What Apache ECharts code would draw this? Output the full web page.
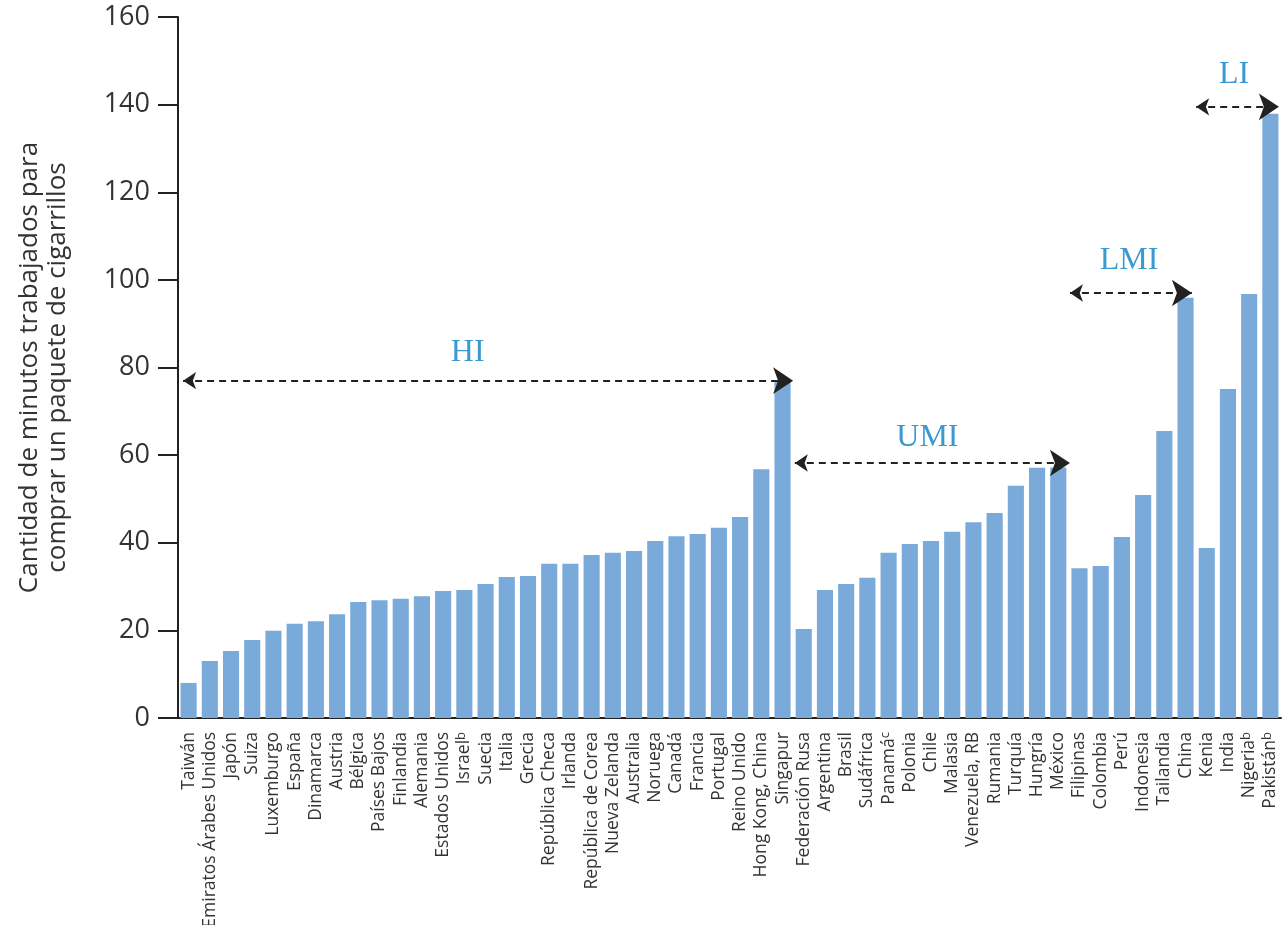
<!DOCTYPE html>
<html><head><meta charset="utf-8">
<script src="https://cdn.jsdelivr.net/npm/echarts@6/dist/echarts.min.js"></script>
<style>html,body{margin:0;padding:0;background:#fff}#c{width:1283px;height:925px}</style>
</head><body><div id="c"></div>
<script>
const countries = ['Taiwán','Emiratos Árabes Unidos','Japón','Suiza','Luxemburgo','España','Dinamarca','Austria','Bélgica','Países Bajos','Finlandia','Alemania','Estados Unidos','Israel','Suecia','Italia','Grecia','República Checa','Irlanda','República de Corea','Nueva Zelanda','Australia','Noruega','Canadá','Francia','Portugal','Reino Unido','Hong Kong, China','Singapur','Federación Rusa','Argentina','Brasil','Sudáfrica','Panamá','Polonia','Chile','Malasia','Venezuela, RB','Rumania','Turquía','Hungría','México','Filipinas','Colombia','Perú','Indonesia','Tailandia','China','Kenia','India','Nigeria','Pakistán'];
const notes = {'Israel':'b','Panamá':'c','Nigeria':'b','Pakistán':'b'};
const minutes = [8.0,13.0,15.3,17.8,19.9,21.5,22.1,23.7,26.5,26.9,27.2,27.8,29.0,29.2,30.6,32.2,32.4,35.2,35.2,37.2,37.7,38.1,40.4,41.5,42.0,43.4,45.9,56.8,76.7,20.3,29.2,30.6,32.0,37.7,39.7,40.4,42.5,44.7,46.8,53.0,57.1,57.2,34.2,34.7,41.3,50.9,65.5,95.9,38.8,75.1,96.8,137.9];
const yTicks = [0,20,40,60,80,100,120,140,160];
const groupNames = ['HI','UMI','LMI','LI'];
// group arrows: [start, end] in category units, and level (minutes)
const groupStart = [0.24, 29.08, 42.05, 48.0];
const groupEnd = [29.0, 42.05, 47.8, 51.9];
const groupLevel = [77.0, 58.2, 97.0, 139.5];
const groupLabelX = [13.66, 35.33, 44.84, 49.79];
const groupLabelY = [83.3, 63.9, 104.5, 146.8];

const chart = echarts.init(document.getElementById('c'));
chart.setOption({
  animation:false,
  grid:{left:178,right:2,top:17,bottom:207,containLabel:false,outerBoundsMode:'none'},
  xAxis:[{
    type:'category', data:countries,
    axisLine:{lineStyle:{color:'#222',width:2}},
    axisTick:{length:8,lineStyle:{color:'#222',width:2},interval:0},
    axisLabel:{interval:0,rotate:90,margin:14,fontFamily:'Open Sans',fontSize:17.5,color:'#333',
      formatter:v=> notes[v] ? '{n|'+v+'}{s|'+notes[v]+'}' : '{n|'+v+'}',
      rich:{n:{fontFamily:'Open Sans',fontSize:17.5,color:'#333'},s:{fontFamily:'Open Sans',fontSize:13,color:'#333',verticalAlign:'top',padding:[0,0,6,0]}}}
  },{
    type:'value', min:0, max:countries.length, show:false
  }],
  yAxis:{type:'value',min:yTicks[0],max:yTicks[yTicks.length-1],interval:20,
    axisLine:{show:true,lineStyle:{color:'#222',width:2}},
    axisTick:{show:true,length:20,lineStyle:{color:'#222',width:2}},
    splitLine:{show:false},
    axisLabel:{margin:28,fontFamily:'Open Sans',fontSize:27,color:'#333'},
    name:'Cantidad de minutos trabajados para\ncomprar un paquete de cigarrillos',
    nameLocation:'middle',nameGap:106,nameRotate:90,
    nameTextStyle:{fontFamily:'Open Sans',fontSize:26,color:'#333',lineHeight:28}
  },
  series:[{
    type:'bar',data:minutes,barCategoryGap:'24%',
    itemStyle:{color:'#7aaad9'}
  },{
    type:'lines',coordinateSystem:'cartesian2d',xAxisIndex:1,yAxisIndex:0,
    symbol:['arrow','arrow'],symbolSize:[13,20],
    lineStyle:{color:'#222',width:2.2,type:[7,5],opacity:1,curveness:0},
    data:groupNames.map((n,i)=>({coords:[[groupStart[i],groupLevel[i]],[groupEnd[i],groupLevel[i]]]})),
    z:5
  },{
    type:'scatter',xAxisIndex:1,yAxisIndex:0,symbolSize:0,
    data:groupNames.map((n,i)=>[groupLabelX[i],groupLabelY[i],n]),
    label:{show:true,position:'inside',formatter:p=>p.data[2],fontFamily:'Liberation Serif',fontSize:32,color:'#0a7fc6'},
    z:6
  }]
});
</script></body></html>
